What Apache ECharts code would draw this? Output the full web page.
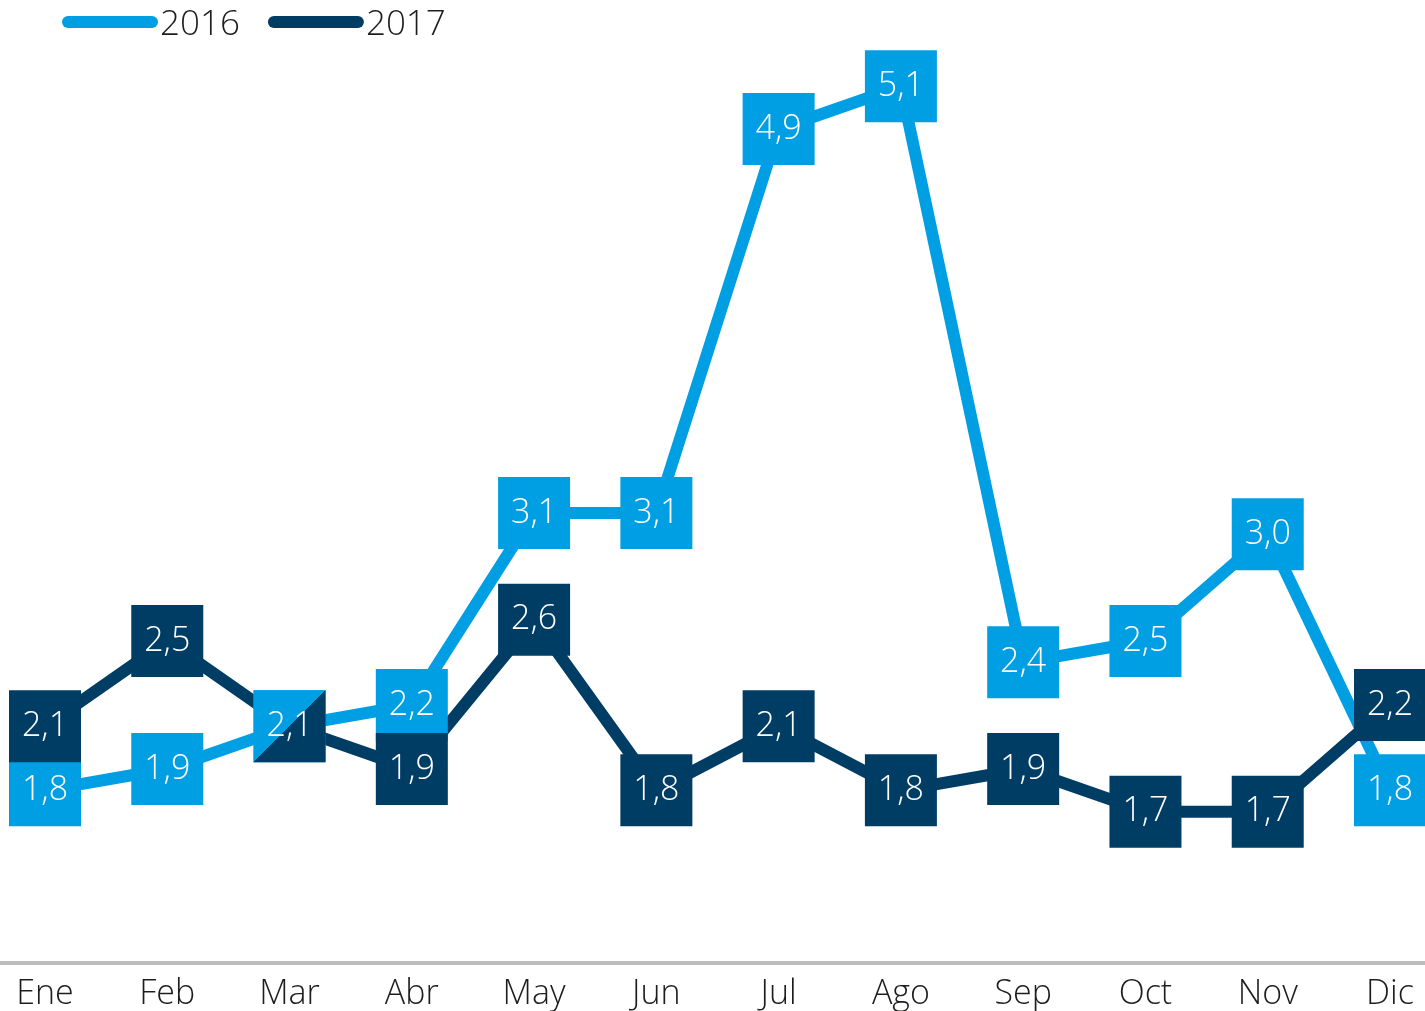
<!DOCTYPE html>
<html>
<head>
<meta charset="utf-8">
<script src="https://cdn.jsdelivr.net/npm/echarts@6/dist/echarts.min.js"></script>
<style>html,body{margin:0;padding:0;background:#fff}#c{width:1425px;height:1011px}</style>
</head>
<body>
<div id="c"></div>
<script>
var months = ['Ene','Feb','Mar','Abr','May','Jun','Jul','Ago','Sep','Oct','Nov','Dic'];
var values2016 = [1.8, 1.9, 2.1, 2.2, 3.1, 3.1, 4.9, 5.1, 2.4, 2.5, 3.0, 1.8];
var values2017 = [2.1, 2.5, 2.1, 1.9, 2.6, 1.8, 2.1, 1.8, 1.9, 1.7, 1.7, 2.2];
var seriesNames = ['2016', '2017'];

var LIGHT = '#009fe3', DARK = '#003d65';
var FONT = 'Open Sans';
function fmt(p){ return p.value.toFixed(1).replace('.', ','); }

var boxLabel = {show: true, position: 'inside', color: '#fff', fontSize: 34, fontFamily: FONT, fontWeight: 300, formatter: fmt};

var data2017Boxes = values2017.map(function(v, i){
  if (i === 2 && values2016[i] === v) {
    return {value: v, itemStyle: {color: new echarts.graphic.LinearGradient(0, 0, 1, 1, [
      {offset: 0, color: LIGHT}, {offset: 0.5, color: LIGHT}, {offset: 0.5, color: DARK}, {offset: 1, color: DARK}
    ])}};
  }
  return v;
});

var chart = echarts.init(document.getElementById('c'), null, {renderer: 'canvas'});
chart.setOption({
  animation: false,
  legend: {
    data: seriesNames,
    left: 57, top: 3,
    itemWidth: 96, itemHeight: 12, itemGap: 28,
    icon: 'path://M6,0 L90,0 A6,6 0 0 1 90,12 L6,12 A6,6 0 0 1 6,0 Z',
    formatter: '{t|{name}}',
    textStyle: {
      fontSize: 35, fontFamily: FONT, fontWeight: 300, color: '#1d1d1b',
      rich: {t: {fontSize: 35, fontFamily: FONT, fontWeight: 300, color: '#1d1d1b', padding: [7, 0, 0, -3]}}
    }
  },
  grid: [
    {left: 45, right: 35, top: 1, bottom: 46},
    {left: 0, right: 0, top: 2, bottom: 48}
  ],
  xAxis: [{
    type: 'category', data: months, boundaryGap: false, gridIndex: 0,
    axisLine: {show: false},
    axisTick: {show: false},
    axisLabel: {fontSize: 34, fontFamily: FONT, fontWeight: 300, color: '#1d1d1b', margin: 16, interval: 0}
  }, {
    type: 'value', gridIndex: 1, min: 0, max: 1,
    axisLine: {show: true, lineStyle: {color: '#bcbcbc', width: 4}},
    axisTick: {show: false}, axisLabel: {show: false}, splitLine: {show: false}
  }],
  yAxis: [
    {type: 'value', gridIndex: 0, min: 1, max: 5.5, show: false, splitLine: {show: false}},
    {type: 'value', gridIndex: 1, min: 0, max: 1, show: false, splitLine: {show: false}}
  ],
  series: [
    {name: seriesNames[0], type: 'line', data: values2016, symbol: 'none', z: 2,
     itemStyle: {color: LIGHT}, lineStyle: {color: LIGHT, width: 12}},
    {name: seriesNames[1], type: 'line', data: values2017, symbol: 'none', z: 2,
     itemStyle: {color: DARK}, lineStyle: {color: DARK, width: 12}},
    {name: 'b2016', type: 'scatter', data: values2016, symbol: 'rect', symbolSize: 72, z: 3,
     itemStyle: {color: LIGHT, opacity: 1}, label: boxLabel},
    {name: 'b2017', type: 'scatter', data: data2017Boxes, symbol: 'rect', symbolSize: 72, z: 4,
     itemStyle: {color: DARK, opacity: 1}, label: boxLabel}
  ]
});
</script>
</body>
</html>
